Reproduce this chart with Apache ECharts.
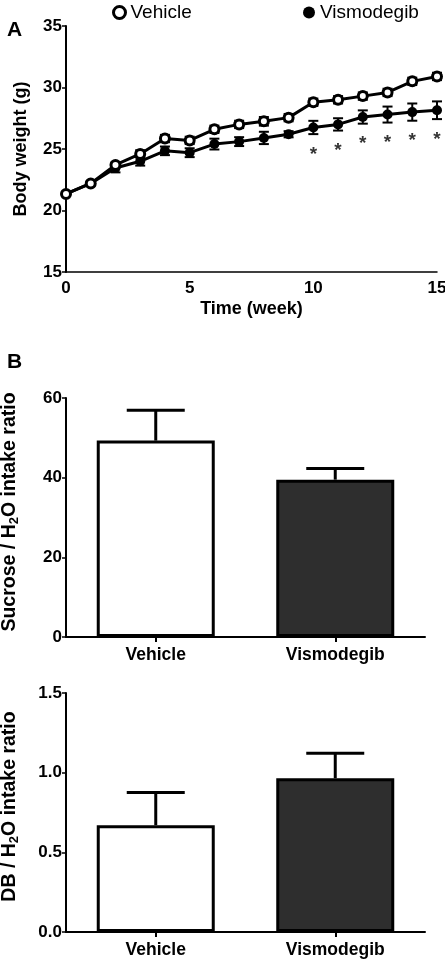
<!DOCTYPE html>
<html>
<head>
<meta charset="utf-8">
<script src="https://cdn.jsdelivr.net/npm/echarts@6/dist/echarts.min.js"></script>
<style>html,body{margin:0;padding:0;background:#fff}#c{width:445px;height:969px}</style>
</head>
<body>
<div id="c"></div>
<script>
// ---- Data ----
var weeks = [0,1,2,3,4,5,6,7,8,9,10,11,12,13,14,15];
var vehicleWeight = [21.35,22.2,23.7,24.6,25.85,25.7,26.6,27.0,27.25,27.55,28.8,29.0,29.3,29.6,30.5,30.9];
var vehicleErr    = [0.1,0.15,0.2,0.3,0.3,0.3,0.3,0.3,0.35,0.3,0.3,0.3,0.3,0.3,0.3,0.3];
var vismoWeight   = [21.35,22.2,23.45,24.0,24.85,24.7,25.4,25.6,25.9,26.2,26.75,27.0,27.6,27.8,28.0,28.15];
var vismoErr      = [0.1,0.15,0.35,0.35,0.35,0.36,0.44,0.36,0.5,0.25,0.54,0.5,0.54,0.65,0.7,0.72];
var sigWeeks      = [10,11,12,13,14,15];
var weekTicks     = [0,5,10,15];
var weightTicks   = [15,20,25,30,35];

var groups     = ['Vehicle','Vismodegib'];
var sucrose    = [49.3, 39.5];
var sucroseErr = [7.6, 2.8];
var db         = [0.67, 0.965];
var dbErr      = [0.205, 0.157];

// ---- Build ----
var FONT = 'Liberation Sans, Arial, sans-serif';
var chart = echarts.init(document.getElementById('c'), null, {renderer:'canvas'});

function errSeriesData(xs, ys, es){
  return xs.map(function(x,i){ return [x, ys[i]-es[i], ys[i]+es[i]]; });
}
function renderErrBoth(capHalf, lw){
  return function(params, api){
    var x = api.value(0), lo = api.value(1), hi = api.value(2);
    var a = api.coord([x, lo]), b = api.coord([x, hi]);
    var st = {stroke:'#000', lineWidth:lw};
    return {type:'group', children:[
      {type:'line', shape:{x1:a[0],y1:a[1],x2:b[0],y2:b[1]}, style:st},
      {type:'line', shape:{x1:a[0]-capHalf,y1:a[1],x2:a[0]+capHalf,y2:a[1]}, style:st},
      {type:'line', shape:{x1:b[0]-capHalf,y1:b[1],x2:b[0]+capHalf,y2:b[1]}, style:st}
    ]};
  };
}
function renderErrUp(capHalf, lw){
  return function(params, api){
    var x = api.value(0), lo = api.value(1), hi = api.value(2);
    var a = api.coord([x, lo]), b = api.coord([x, hi]);
    var st = {stroke:'#000', lineWidth:lw};
    return {type:'group', children:[
      {type:'line', shape:{x1:a[0],y1:a[1],x2:b[0],y2:b[1]}, style:st},
      {type:'line', shape:{x1:b[0]-capHalf,y1:b[1],x2:b[0]+capHalf,y2:b[1]}, style:st}
    ]};
  };
}

var tickLabel = {color:'#000', fontFamily:FONT, fontWeight:'bold', fontSize:17};
function nameStyle(fs, pad){
  return {color:'#000', fontFamily:FONT, fontWeight:'bold', fontSize:fs, lineHeight:fs+4,
    padding: pad || 0,
    rich:{sub:{fontFamily:FONT, fontWeight:'bold', fontSize:Math.round(fs*0.65), lineHeight:Math.round(fs*0.65), verticalAlign:'bottom', color:'#000'}}};
}
var axLine = {show:true, lineStyle:{color:'#000', width:2}};

var option = {
  animation:false,
  backgroundColor:'#fff',
  legend:[
    {left:107, top:-2, itemWidth:12, itemHeight:12, itemGap:10,
     textStyle:{color:'#000', fontFamily:FONT, fontSize:19},
     data:[{name:'Vehicle', icon:'circle', itemStyle:{color:'#fff', borderColor:'#000', borderWidth:3}}]},
    {left:298, top:-2, itemWidth:12, itemHeight:12,
     textStyle:{color:'#000', fontFamily:FONT, fontSize:19},
     data:[{name:'Vismodegib', icon:'circle', itemStyle:{color:'#000', borderWidth:0}}]}
  ],
  graphic:[
    {type:'text', left:7, top:20, style:{text:'A', font:'bold 21px '+FONT, fill:'#000'}},
    {type:'text', left:7, top:352, style:{text:'B', font:'bold 21px '+FONT, fill:'#000'}}
  ],
  grid:[
    {left:66, top:26, width:371, height:246, outerBoundsMode:'none', containLabel:false},
    {left:66, top:398, width:359, height:239, outerBoundsMode:'none', containLabel:false},
    {left:66, top:693, width:359, height:239, outerBoundsMode:'none', containLabel:false}
  ],
  xAxis:[
    {gridIndex:0, type:'value', min:weekTicks[0], max:weekTicks[weekTicks.length-1], interval:5,
     splitLine:{show:false}, axisLine:{show:true, onZero:false, lineStyle:{color:'#000', width:1.5}},
     axisTick:{show:false}, axisLabel:Object.assign({margin:8}, tickLabel),
     name:'Time (week)', nameLocation:'middle', nameGap:26, nameTextStyle:nameStyle(18)},
    {gridIndex:1, type:'category', data:groups, axisLine:axLine,
     axisTick:{show:true, alignWithLabel:true, length:5, lineStyle:{color:'#000', width:2}},
     axisLabel:{color:'#000', fontFamily:FONT, fontWeight:'bold', fontSize:17.5, margin:9}},
    {gridIndex:2, type:'category', data:groups, axisLine:axLine,
     axisTick:{show:true, alignWithLabel:true, length:5, lineStyle:{color:'#000', width:2}},
     axisLabel:{color:'#000', fontFamily:FONT, fontWeight:'bold', fontSize:17.5, margin:9}}
  ],
  yAxis:[
    {gridIndex:0, type:'value', min:weightTicks[0], max:weightTicks[weightTicks.length-1], interval:5,
     splitLine:{show:false}, axisLine:{show:true, onZero:false, lineStyle:{color:'#000', width:2}},
     axisTick:{show:true, length:4, lineStyle:{color:'#000', width:1.5}},
     axisLabel:Object.assign({margin:4}, tickLabel),
     name:'Body weight (g)', nameLocation:'middle', nameGap:33, nameTextStyle:nameStyle(18)},
    {gridIndex:1, type:'value', min:0, max:60, interval:20,
     splitLine:{show:false}, axisLine:axLine,
     axisTick:{show:true, length:4, lineStyle:{color:'#000', width:1.5}},
     axisLabel:Object.assign({margin:4}, tickLabel),
     name:'Sucrose / H{sub|2}O intake ratio', nameLocation:'middle', nameGap:45, nameTextStyle:nameStyle(19.5, [0,0,0,11])},
    {gridIndex:2, type:'value', min:0, max:1.5, interval:0.5,
     splitLine:{show:false}, axisLine:axLine,
     axisTick:{show:true, length:4, lineStyle:{color:'#000', width:1.5}},
     axisLabel:Object.assign({margin:4, formatter:function(v){return v.toFixed(1);}}, tickLabel),
     name:'DB / H{sub|2}O intake ratio', nameLocation:'middle', nameGap:45, nameTextStyle:nameStyle(19.5, [0,0,0,12])}
  ],
  series:[
    {type:'custom', name:'VisErr', xAxisIndex:0, yAxisIndex:0, renderItem:renderErrBoth(5,2),
     data:errSeriesData(weeks, vismoWeight, vismoErr), silent:true, z:2},
    {type:'line', name:'Vismodegib', xAxisIndex:0, yAxisIndex:0,
     data:weeks.map(function(w,i){return [w, vismoWeight[i]];}),
     symbol:'circle', symbolSize:10, lineStyle:{color:'#000', width:3},
     itemStyle:{color:'#000'}, z:3},
    {type:'custom', name:'VehErr', xAxisIndex:0, yAxisIndex:0, renderItem:renderErrBoth(5,2),
     data:errSeriesData(weeks, vehicleWeight, vehicleErr), silent:true, z:4},
    {type:'line', name:'Vehicle', xAxisIndex:0, yAxisIndex:0,
     data:weeks.map(function(w,i){return [w, vehicleWeight[i]];}),
     symbol:'circle', symbolSize:9, showAllSymbol:true, lineStyle:{color:'#000', width:3},
     itemStyle:{color:'#fff', borderColor:'#000', borderWidth:3}, z:5},
    {type:'scatter', name:'sig', xAxisIndex:0, yAxisIndex:0,
     data:sigWeeks.map(function(w){var i=weeks.indexOf(w); return [w, vismoWeight[i]-vismoErr[i]-1.4];}),
     symbol:'circle', symbolSize:1, itemStyle:{color:'rgba(0,0,0,0)'},
     label:{show:true, position:'inside', formatter:'*', color:'#000', fontFamily:FONT, fontWeight:'bold', fontSize:19, offset:[0,3]}, z:6},

    {type:'bar', name:'sucrose', xAxisIndex:1, yAxisIndex:1, barWidth:118,
     data:sucrose.map(function(v,i){return {value:v, itemStyle:{color: i===0?'#fff':'#2e2e2e', borderColor:'#000', borderWidth:3}};}), z:2},
    {type:'custom', name:'sucErr', xAxisIndex:1, yAxisIndex:1, renderItem:renderErrUp(29,3),
     data:sucrose.map(function(v,i){return [i, v, v+sucroseErr[i]];}), z:1},

    {type:'bar', name:'db', xAxisIndex:2, yAxisIndex:2, barWidth:118,
     data:db.map(function(v,i){return {value:v, itemStyle:{color: i===0?'#fff':'#2e2e2e', borderColor:'#000', borderWidth:3}};}), z:2},
    {type:'custom', name:'dbErr', xAxisIndex:2, yAxisIndex:2, renderItem:renderErrUp(29,3),
     data:db.map(function(v,i){return [i, v, v+dbErr[i]];}), z:1}
  ]
};
chart.setOption(option);
</script>
</body>
</html>
